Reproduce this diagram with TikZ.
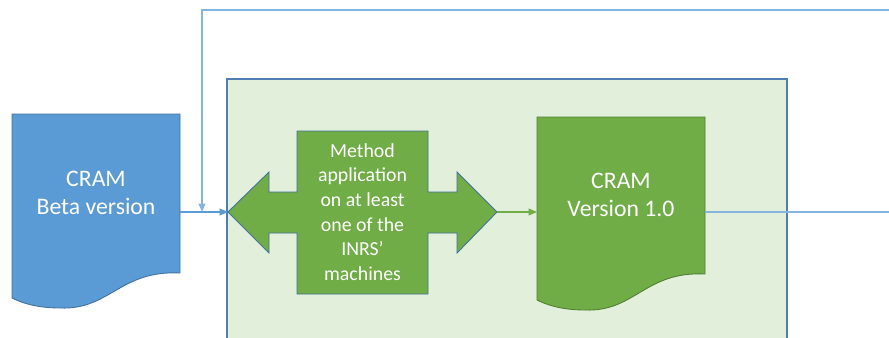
\documentclass[tikz,border=0pt]{standalone}
\usepackage{fontspec}
\setmainfont{Carlito}
\usepackage{xcolor}
\usetikzlibrary{arrows.meta}

\definecolor{docblue}{HTML}{5B9BD5}
\definecolor{docblueline}{HTML}{41719C}
\definecolor{docgreen}{HTML}{70AD47}
\definecolor{docgreenline}{HTML}{507E32}
\definecolor{paleframe}{HTML}{E2EFDA}
\definecolor{frameline}{HTML}{4F7FB0}

\begin{document}
\begin{tikzpicture}[x=0.02cm, y=-0.02cm, line join=miter,
    every node/.style={font=\fontsize{13.5}{16}\selectfont, text=white, align=center},
    link/.style={-{Triangle[length=0.17cm, width=0.14cm]}, line width=0.6pt}]
    \useasboundingbox (0,0) rectangle (889,338);

    % Frame: validation stage
    \fill[paleframe, draw=frameline, line width=0.6pt] (227,79) rectangle (787,345);

    % Document 1: beta version
    \draw[fill=docblue, draw=docblueline, line width=0.5pt] (12,114) -- (180,114) -- (180,273)
        .. controls (120,270) and (110,310) .. (60,308)
        .. controls (35,308) and (20,302) .. (12,298) -- cycle;
    \node (beta) at (96,193) {CRAM\\Beta version};
    \coordinate (betaout) at (180,212);

    % Double arrow: method application
    \draw[fill=docgreen, draw=docblueline, line width=0.5pt] (228,212) -- (269,172) -- (269,192)
        -- (297,192) -- (297,131) -- (428,131) -- (428,192) -- (457,192) -- (457,172)
        -- (497,212) -- (457,253) -- (457,233) -- (428,233) -- (428,294) -- (297,294)
        -- (297,233) -- (269,233) -- (269,253) -- cycle;
    \node[font=\fontsize{11.3}{14}\selectfont] (method) at (362.5,212) {Method\\application\\on at least\\one of the\\INRS’\\machines};
    \coordinate (methodin) at (228,212);
    \coordinate (methodout) at (497,212);

    % Document 2: version 1.0
    \draw[fill=docgreen, draw=docgreenline, line width=0.5pt] (537,117) -- (705,117) -- (705,274)
        .. controls (645,271) and (635,312) .. (585,310)
        .. controls (560,310) and (545,304) .. (537,300) -- cycle;
    \node (final) at (621,195) {CRAM\\Version 1.0};
    \coordinate (finalin) at (537,212);
    \coordinate (finalout) at (705,212);

    % Connectors
    \draw[link, docblue] (betaout) -- (methodin);
    \draw[link, docgreen] (methodout) -- (finalin);
    \coordinate (loop) at (202,212);
    \draw[link, docblue!75] (finalout) -- (900,212) |- (202,10) -- (loop);
\end{tikzpicture}
\end{document}
